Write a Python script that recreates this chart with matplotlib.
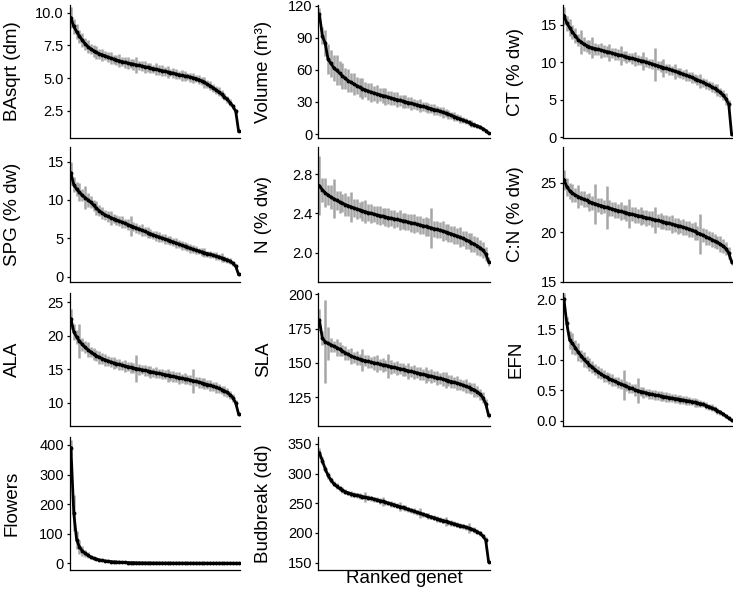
import numpy as np
import matplotlib.pyplot as plt

plt.rcParams['font.family'] = ['Liberation Sans', 'DejaVu Sans']

# ranked genet means (highest to lowest)
ba_sqrt = [9.6, 8.95, 8.55, 8.2, 7.9, 7.62, 7.4, 7.22, 7.08, 6.96,
           6.85, 6.78, 6.7, 6.6, 6.52, 6.45, 6.38, 6.32, 6.26, 6.2,
           6.15, 6.1, 6.05, 6.0, 5.96, 5.92, 5.86, 5.82, 5.77, 5.72,
           5.67, 5.62, 5.57, 5.52, 5.47, 5.42, 5.37, 5.31, 5.25, 5.2,
           5.16, 5.12, 5.07, 5.02, 4.96, 4.88, 4.78, 4.66, 4.53, 4.4,
           4.26, 4.1, 3.94, 3.76, 3.57, 3.36, 3.12, 2.84, 2.45, 0.95]
ba_sqrt_se = [0.8, 0.6, 0.55, 0.5, 0.55, 0.45, 0.5, 0.4, 0.45, 0.5,
              0.4, 0.45, 0.35, 0.4, 0.45, 0.35, 0.4, 0.5, 0.35, 0.4,
              0.45, 0.35, 0.4, 0.6, 0.35, 0.4, 0.45, 0.35, 0.4, 0.3,
              0.45, 0.35, 0.4, 0.35, 0.45, 0.3, 0.4, 0.35, 0.3, 0.4,
              0.35, 0.3, 0.35, 0.4, 0.3, 0.35, 0.3, 0.4, 0.3, 0.35,
              0.3, 0.3, 0.35, 0.3, 0.25, 0.3, 0.25, 0.2, 0.2, 0.1]

volume = [112, 92, 85, 70, 66, 62, 59.5, 57, 54.5, 52,
          50, 48.3, 46.8, 45.3, 43.8, 42.5, 41.3, 40.2, 39.2, 38.3,
          37.5, 36.7, 35.9, 35.2, 34.4, 33.7, 33.0, 32.2, 31.5, 30.8,
          30.1, 29.4, 28.7, 28.0, 27.3, 26.6, 25.9, 25.2, 24.4, 23.7,
          22.9, 22.1, 21.3, 20.4, 19.5, 18.5, 17.5, 16.4, 15.3, 14.2,
          13.1, 12.0, 10.9, 9.8, 8.7, 7.6, 6.4, 5.0, 3.3, 0.8]
volume_se = [6, 8, 12, 14, 13, 12, 14, 11, 12, 10,
             11, 9, 10, 8, 9, 10, 7, 8, 9, 7,
             8, 6, 7, 8, 6, 7, 6, 7, 5, 6,
             6, 5, 6, 5, 5, 6, 4, 5, 5, 4,
             5, 4, 4, 5, 3.5, 4, 3.5, 4, 3, 3.5,
             3, 3, 2.5, 3, 2.5, 2, 2, 1.5, 1.5, 0.8]

ct = [16.2, 15.2, 14.6, 14.0, 13.5, 13.0, 12.7, 12.4, 12.2, 12.0,
      11.9, 11.8, 11.7, 11.6, 11.5, 11.4, 11.3, 11.2, 11.1, 11.0,
      10.9, 10.8, 10.7, 10.6, 10.5, 10.4, 10.3, 10.2, 10.1, 10.0,
      9.88, 9.76, 9.64, 9.52, 9.4, 9.28, 9.16, 9.04, 8.92, 8.8,
      8.67, 8.54, 8.4, 8.26, 8.11, 7.96, 7.8, 7.64, 7.47, 7.3,
      7.12, 6.93, 6.72, 6.5, 6.25, 5.97, 5.62, 5.15, 4.4, 0.4]
ct_se = [1.2, 1.0, 1.1, 0.9, 1.0, 0.8, 1.6, 0.9, 0.8, 0.9,
         1.4, 0.8, 0.7, 1.0, 0.8, 0.7, 1.1, 0.7, 0.8, 0.7,
         1.3, 0.7, 0.8, 0.6, 0.7, 0.9, 0.7, 0.6, 1.2, 0.7,
         0.6, 0.7, 2.2, 0.6, 0.7, 1.2, 0.6, 0.7, 0.6, 1.0,
         0.6, 0.7, 0.6, 0.8, 0.6, 0.7, 0.6, 0.7, 0.9, 0.6,
         0.7, 0.6, 0.7, 0.6, 0.8, 0.6, 0.7, 0.8, 0.5, 0.2]

spg = [13.5, 12.0, 11.4, 11.0, 10.6, 10.3, 10.0, 9.7, 9.3, 8.9,
       8.6, 8.3, 8.05, 7.85, 7.7, 7.55, 7.4, 7.25, 7.1, 6.95,
       6.8, 6.65, 6.5, 6.35, 6.2, 6.05, 5.9, 5.75, 5.6, 5.45,
       5.3, 5.17, 5.04, 4.92, 4.8, 4.67, 4.53, 4.39, 4.25, 4.1,
       3.96, 3.83, 3.7, 3.57, 3.45, 3.34, 3.23, 3.12, 3.01, 2.9,
       2.8, 2.69, 2.58, 2.46, 2.33, 2.18, 2.0, 1.75, 1.35, 0.3]
spg_se = [1.5, 1.0, 0.9, 1.2, 0.8, 1.5, 0.9, 0.8, 0.7, 0.9,
          0.7, 0.8, 0.6, 0.7, 0.9, 0.6, 0.7, 0.6, 0.8, 0.6,
          0.7, 1.3, 0.6, 0.7, 0.6, 0.8, 0.6, 0.7, 0.6, 0.5,
          0.6, 0.7, 0.5, 0.6, 0.5, 0.6, 0.5, 0.7, 0.5, 0.6,
          0.5, 0.5, 0.6, 0.5, 0.5, 0.4, 0.5, 0.6, 0.4, 0.5,
          0.4, 0.5, 0.4, 0.6, 0.4, 0.4, 0.4, 0.3, 0.3, 0.2]

nitrogen = [2.68, 2.64, 2.61, 2.585, 2.565, 2.548, 2.532, 2.517, 2.503, 2.49,
            2.478, 2.466, 2.455, 2.445, 2.435, 2.426, 2.417, 2.408, 2.4, 2.392,
            2.385, 2.378, 2.371, 2.364, 2.357, 2.35, 2.344, 2.338, 2.331, 2.325,
            2.318, 2.311, 2.304, 2.297, 2.29, 2.283, 2.275, 2.268, 2.26, 2.252,
            2.244, 2.236, 2.228, 2.22, 2.211, 2.201, 2.191, 2.18, 2.169, 2.157,
            2.145, 2.132, 2.118, 2.103, 2.087, 2.07, 2.05, 2.025, 1.99, 1.91]
nitrogen_se = [0.3, 0.12, 0.15, 0.1, 0.12, 0.2, 0.1, 0.11, 0.09, 0.12,
               0.1, 0.15, 0.09, 0.1, 0.08, 0.1, 0.12, 0.09, 0.1, 0.08,
               0.09, 0.1, 0.08, 0.09, 0.1, 0.08, 0.09, 0.08, 0.1, 0.08,
               0.09, 0.08, 0.09, 0.1, 0.08, 0.09, 0.08, 0.1, 0.09, 0.2,
               0.08, 0.09, 0.08, 0.1, 0.08, 0.09, 0.08, 0.09, 0.08, 0.1,
               0.08, 0.09, 0.08, 0.1, 0.08, 0.09, 0.08, 0.08, 0.07, 0.05]

cn = [25.3, 24.6, 24.2, 23.95, 23.75, 23.6, 23.45, 23.32, 23.2, 23.08,
      22.97, 22.87, 22.77, 22.68, 22.59, 22.5, 22.42, 22.34, 22.26, 22.18,
      22.1, 22.02, 21.95, 21.88, 21.81, 21.74, 21.67, 21.6, 21.53, 21.46,
      21.39, 21.32, 21.25, 21.18, 21.11, 21.04, 20.97, 20.9, 20.82, 20.74,
      20.66, 20.58, 20.5, 20.41, 20.31, 20.2, 20.08, 19.95, 19.82, 19.68,
      19.54, 19.4, 19.26, 19.11, 18.96, 18.8, 18.6, 18.35, 17.9, 17.0]
cn_se = [1.0, 0.9, 0.8, 0.9, 0.7, 1.2, 0.7, 0.8, 0.7, 0.9,
         0.7, 2.0, 0.7, 0.8, 0.7, 2.2, 0.8, 0.7, 0.8, 0.7,
         0.9, 0.7, 0.8, 1.5, 0.7, 0.8, 0.7, 0.9, 0.7, 0.8,
         0.7, 0.8, 1.3, 0.7, 0.8, 0.7, 0.8, 0.7, 0.9, 0.7,
         0.8, 0.7, 0.8, 0.7, 0.8, 0.7, 0.9, 0.7, 2.0, 0.7,
         0.8, 0.7, 0.8, 0.7, 0.7, 0.8, 0.7, 0.7, 0.6, 0.3]

ala = [22.5, 20.6, 19.8, 19.2, 18.7, 18.25, 17.9, 17.55, 17.25, 17.0,
       16.78, 16.58, 16.4, 16.23, 16.08, 15.94, 15.82, 15.7, 15.59, 15.48,
       15.38, 15.28, 15.18, 15.09, 15.0, 14.91, 14.82, 14.73, 14.64, 14.55,
       14.46, 14.37, 14.28, 14.19, 14.1, 14.01, 13.92, 13.83, 13.74, 13.65,
       13.56, 13.47, 13.37, 13.27, 13.17, 13.06, 12.95, 12.83, 12.71, 12.58,
       12.45, 12.3, 12.14, 11.96, 11.76, 11.52, 11.2, 10.75, 9.95, 8.3]
ala_se = [1.5, 1.2, 1.0, 2.5, 1.0, 0.9, 1.1, 0.8, 0.9, 0.8,
          1.0, 0.8, 0.9, 0.7, 0.8, 0.9, 0.7, 0.8, 0.7, 0.9,
          0.7, 0.8, 0.7, 2.0, 0.8, 0.7, 0.8, 0.7, 0.9, 0.7,
          0.8, 0.7, 0.8, 0.7, 1.0, 0.7, 0.8, 0.7, 0.9, 0.7,
          0.8, 0.7, 0.8, 1.8, 0.7, 0.8, 0.7, 0.8, 0.7, 0.8,
          0.7, 0.8, 0.7, 0.6, 0.7, 0.6, 0.6, 0.6, 0.5, 0.3]

sla = [181, 168, 165.5, 164.2, 163.2, 162.2, 161.2, 160.0, 158.7, 157.4,
       156.2, 155.1, 154.2, 153.4, 152.7, 152.1, 151.6, 151.1, 150.6, 150.1,
       149.6, 149.1, 148.6, 148.2, 147.8, 147.3, 146.8, 146.3, 145.8, 145.3,
       144.8, 144.3, 143.8, 143.3, 142.8, 142.3, 141.8, 141.3, 140.8, 140.3,
       139.8, 139.3, 138.8, 138.3, 137.7, 137.1, 136.5, 135.9, 135.3, 134.6,
       133.9, 133.1, 132.3, 131.4, 130.4, 129.1, 127.4, 124.9, 120.5, 112]
sla_se = [8, 5, 30, 12, 5, 4, 6, 5, 4, 5,
          4, 6, 4, 5, 4, 8, 4, 5, 4, 5,
          6, 4, 5, 4, 9, 5, 4, 5, 4, 5,
          4, 6, 4, 5, 4, 5, 4, 6, 4, 5,
          4, 5, 4, 5, 6, 4, 5, 4, 5, 4,
          4, 5, 4, 4, 5, 4, 4, 4, 3, 2]

efn = [2.0, 1.6, 1.33, 1.27, 1.2, 1.13, 1.07, 1.01, 0.96, 0.92,
       0.88, 0.84, 0.8, 0.77, 0.74, 0.715, 0.69, 0.67, 0.645, 0.625,
       0.605, 0.585, 0.565, 0.545, 0.53, 0.51, 0.495, 0.48, 0.468, 0.456,
       0.445, 0.434, 0.424, 0.415, 0.406, 0.397, 0.389, 0.38, 0.372, 0.364,
       0.356, 0.348, 0.34, 0.331, 0.322, 0.313, 0.303, 0.292, 0.281, 0.268,
       0.25, 0.232, 0.212, 0.19, 0.165, 0.14, 0.11, 0.075, 0.04, 0.005]
efn_se = [0.1, 0.1, 0.15, 0.18, 0.12, 0.15, 0.1, 0.12, 0.1, 0.11,
          0.1, 0.09, 0.1, 0.09, 0.1, 0.08, 0.09, 0.1, 0.08, 0.09,
          0.08, 0.25, 0.08, 0.09, 0.08, 0.1, 0.2, 0.08, 0.09, 0.07,
          0.08, 0.07, 0.08, 0.07, 0.08, 0.07, 0.08, 0.07, 0.06, 0.07,
          0.06, 0.07, 0.06, 0.07, 0.06, 0.06, 0.07, 0.06, 0.06, 0.05,
          0.06, 0.05, 0.06, 0.05, 0.05, 0.04, 0.04, 0.03, 0.03, 0.02]

flowers = [390, 170, 80, 55, 42, 34, 27, 21, 17, 14,
           11.5, 9.5, 8, 6.8, 5.8, 5, 4.3, 3.7, 3.2, 2.8,
           2.5, 2.2, 2.0, 1.8, 1.6, 1.45, 1.3, 1.2, 1.1, 1.0,
           0.92, 0.85, 0.78, 0.72, 0.66, 0.61, 0.56, 0.52, 0.48, 0.44,
           0.4, 0.37, 0.34, 0.31, 0.28, 0.26, 0.24, 0.22, 0.2, 0.18,
           0.16, 0.14, 0.12, 0.1, 0.08, 0.06, 0.05, 0.03, 0.02, 0.0]
flowers_se = [25, 60, 30, 25, 18, 12, 10, 7, 5, 4,
              3, 2.5, 2, 1.6, 1.3, 1.1, 0.9, 0.8, 0.7, 0.6,
              0.5, 0.5, 0.4, 0.4, 0.4, 0.3, 0.3, 0.3, 0.3, 0.3,
              0.3, 0.3, 0.2, 0.2, 0.2, 0.2, 0.2, 0.2, 0.2, 0.2,
              0.2, 0.2, 0.2, 0.2, 0.1, 0.1, 0.1, 0.1, 0.1, 0.1,
              0.1, 0.1, 0.1, 0.1, 0.1, 0.1, 0.1, 0.1, 0.1, 0.0]

budbreak = [335, 322, 308, 297, 289, 283, 278.5, 275, 272, 269.5,
            267.5, 266, 264.6, 263.4, 262.3, 261.2, 260.2, 259.2, 258.1, 257,
            255.8, 254.5, 253.2, 251.8, 250.4, 249, 247.5, 246, 244.5, 243,
            241.3, 239.7, 238.1, 236.5, 234.9, 233.3, 231.7, 230.1, 228.5, 227,
            225.5, 224, 222.5, 221, 219.6, 218.2, 216.8, 215.4, 214, 212.6,
            211.2, 209.8, 208.3, 206.6, 204.6, 202.2, 199.2, 195, 188, 152]
budbreak_se = [8, 6, 5, 6, 5, 4, 5, 4, 5, 4,
               4, 5, 4, 4, 5, 4, 8, 4, 5, 4,
               4, 5, 8, 4, 4, 5, 4, 4, 8, 4,
               5, 4, 4, 5, 4, 8, 4, 4, 5, 4,
               4, 5, 4, 4, 8, 4, 5, 4, 4, 5,
               4, 4, 8, 4, 5, 4, 4, 4, 5, 3]

labels = ['BAsqrt (dm)', 'Volume (m³)', 'CT (% dw)',
          'SPG (% dw)', 'N (% dw)', 'C:N (% dw)',
          'ALA', 'SLA', 'EFN',
          'Flowers', 'Budbreak (dd)']
means = [ba_sqrt, volume, ct, spg, nitrogen, cn, ala, sla, efn, flowers, budbreak]
errors = [ba_sqrt_se, volume_se, ct_se, spg_se, nitrogen_se, cn_se,
          ala_se, sla_se, efn_se, flowers_se, budbreak_se]
yticks = [[2.5, 5.0, 7.5, 10.0], [0, 30, 60, 90, 120], [0, 5, 10, 15],
          [0, 5, 10, 15], [2.0, 2.4, 2.8], [15, 20, 25],
          [10, 15, 20, 25], [125, 150, 175, 200], [0.0, 0.5, 1.0, 1.5, 2.0],
          [0, 100, 200, 300, 400], [150, 200, 250, 300, 350]]
ytick_fmt = ['{:.1f}', '{:.0f}', '{:.0f}', '{:.0f}', '{:.1f}', '{:.0f}',
             '{:.0f}', '{:.0f}', '{:.1f}', '{:.0f}', '{:.0f}']
ylims = [(0.41, 10.59), (-3.7, 120.7), (-0.09, 17.6), (-0.69, 16.9),
         (1.702, 3.075), (14.97, 28.6), (6.52, 26.37), (104.2, 200.8),
         (-0.087, 2.10), (-22.6, 426.7), (137.7, 361.6)]

# panel geometry in pixels
W, H = 733, 592
col_lr = [(69.5, 240), (318, 490), (562.5, 733)]
row_tb = [(5, 138), (147, 282), (293, 426), (437, 570)]
label_right = [21, 272, 524]

fig = plt.figure(figsize=(W / 100, H / 100), dpi=100)

for k in range(len(labels)):
    r, c = divmod(k, 3)
    l, rgt = col_lr[c]
    t, b = row_tb[r]
    ax = fig.add_axes([l / W, 1 - b / H, (rgt - l) / W, (b - t) / H])
    v = np.array(means[k])
    e = np.array(errors[k])
    x = np.arange(len(v))
    ax.vlines(x, v - e, v + e, color='#a6a6a6', lw=1.8, zorder=1)
    ax.plot(x, v, color='black', lw=2.0, marker='o', ms=1.8, zorder=2)
    ax.set_xlim(-0.5, len(v) - 0.5)
    ax.set_ylim(*ylims[k])
    ax.set_yticks(yticks[k])
    ax.set_yticklabels([ytick_fmt[k].format(tv) for tv in yticks[k]])
    ax.set_xticks([])
    for side in ['top', 'right']:
        ax.spines[side].set_visible(False)
    for side in ['left', 'bottom']:
        ax.spines[side].set_linewidth(0.9)
    ax.tick_params(axis='y', length=2.5, width=0.9, labelsize=10.5,
                   colors='black', pad=1.5)
    ax.set_ylabel(labels[k], fontsize=13.5)
    ax.yaxis.set_label_coords((label_right[c] - l) / (rgt - l), 0.5)
    if k == 10:
        ax.set_xlabel('Ranked genet', fontsize=13.5, labelpad=0)

fig.savefig('out.png', dpi=100)
